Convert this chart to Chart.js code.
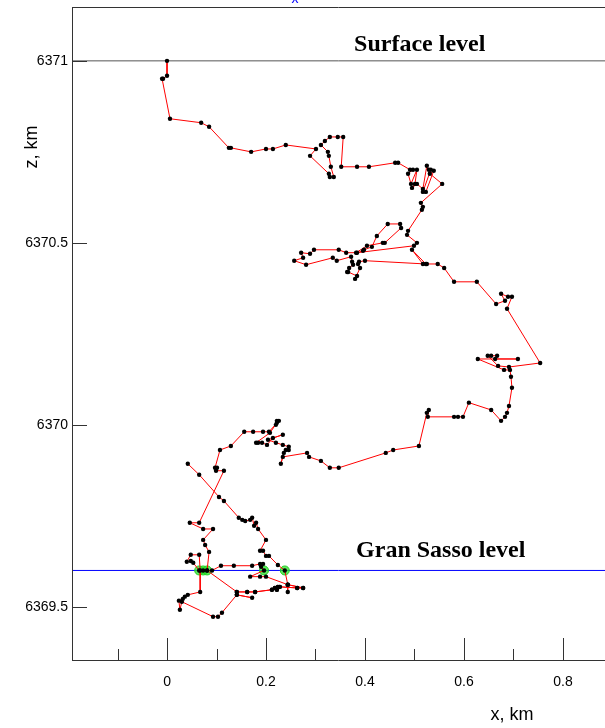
<!DOCTYPE html>
<html>
<head>
<meta charset="utf-8">
<script src="https://cdn.jsdelivr.net/npm/chart.js@4.4.0/dist/chart.umd.min.js"></script>
<style>
  html, body { margin: 0; padding: 0; background: #fff; }
  canvas { display: block; }
</style>
</head>
<body>
<canvas id="myChart" width="605" height="728"></canvas>
<script>
/* track of the particle, x and z in km */
let pathX = [
  0.000, 0.000, -0.008, -0.010, 0.006, 0.069, 0.085, 0.125, 0.129, 0.170,
  0.200, 0.214, 0.240, 0.301, 0.289, 0.327, 0.329, 0.337, 0.331, 0.327,
  0.325, 0.311, 0.319, 0.329, 0.345, 0.356, 0.352, 0.384, 0.408, 0.461,
  0.467, 0.491, 0.497, 0.487, 0.493, 0.505, 0.501, 0.495, 0.505, 0.517,
  0.525, 0.529, 0.533, 0.517, 0.523, 0.539, 0.531, 0.556, 0.513, 0.517,
  0.515, 0.487, 0.485, 0.505, 0.499, 0.384, 0.396, 0.398, 0.414, 0.424,
  0.446, 0.471, 0.473, 0.440, 0.436, 0.404, 0.382, 0.362, 0.347, 0.297,
  0.289, 0.271, 0.275, 0.257, 0.281, 0.335, 0.343, 0.372, 0.374, 0.376,
  0.368, 0.364, 0.366, 0.384, 0.380, 0.390, 0.386, 0.388, 0.400, 0.523,
  0.495, 0.517, 0.525, 0.547, 0.560, 0.580, 0.626, 0.665, 0.683, 0.675,
  0.689, 0.697, 0.687, 0.754, 0.691, 0.669, 0.648, 0.655, 0.667, 0.663,
  0.709, 0.628, 0.681, 0.693, 0.695, 0.697, 0.691, 0.687, 0.683, 0.675,
  0.655, 0.610, 0.598, 0.588, 0.580, 0.527, 0.529, 0.525, 0.509, 0.457,
  0.442, 0.347, 0.329, 0.311, 0.287, 0.283, 0.234, 0.230, 0.236, 0.240,
  0.246, 0.246, 0.234, 0.220, 0.204, 0.234, 0.214, 0.202, 0.192, 0.184,
  0.180, 0.208, 0.222, 0.220, 0.222, 0.226, 0.206, 0.194, 0.174, 0.156,
  0.129, 0.107, 0.097, 0.101, 0.099, 0.115, 0.065, 0.046, 0.073, 0.093,
  0.073, 0.077, 0.085, 0.081, 0.073, 0.065, 0.053, 0.048, 0.040, 0.048,
  0.065, 0.067, 0.067, 0.042, 0.036, 0.032, 0.024, 0.026, 0.030, 0.093,
  0.103, 0.111, 0.141, 0.172, 0.141, 0.141, 0.081, 0.091, 0.109, 0.135,
  0.172, 0.188, 0.194, 0.190, 0.196, 0.168, 0.188, 0.200, 0.244, 0.275,
  0.263, 0.228, 0.224, 0.222, 0.218, 0.212, 0.178, 0.162, 0.141, 0.162,
  0.178, 0.212, 0.218, 0.222, 0.224, 0.228, 0.263, 0.275, 0.244, 0.244,
  0.244, 0.238, 0.224, 0.206, 0.200, 0.194, 0.188, 0.200, 0.184, 0.180,
  0.176, 0.172, 0.168, 0.158, 0.152, 0.145, 0.115, 0.105, 0.065, 0.042
];
let pathZ = [
  6371.000, 6370.959, 6370.951, 6370.951, 6370.841, 6370.830, 6370.819, 6370.761, 6370.761, 6370.750,
  6370.758, 6370.758, 6370.769, 6370.758, 6370.739, 6370.690, 6370.681, 6370.681, 6370.709, 6370.739,
  6370.750, 6370.769, 6370.780, 6370.791, 6370.791, 6370.791, 6370.709, 6370.709, 6370.709, 6370.720,
  6370.720, 6370.701, 6370.701, 6370.690, 6370.662, 6370.701, 6370.662, 6370.651, 6370.662, 6370.648,
  6370.712, 6370.701, 6370.701, 6370.640, 6370.640, 6370.698, 6370.690, 6370.662, 6370.610, 6370.599,
  6370.591, 6370.533, 6370.522, 6370.500, 6370.492, 6370.473, 6370.478, 6370.481, 6370.489, 6370.519,
  6370.552, 6370.552, 6370.541, 6370.500, 6370.500, 6370.492, 6370.473, 6370.473, 6370.481, 6370.481,
  6370.470, 6370.473, 6370.459, 6370.451, 6370.440, 6370.459, 6370.451, 6370.462, 6370.448, 6370.440,
  6370.431, 6370.420, 6370.420, 6370.409, 6370.401, 6370.431, 6370.442, 6370.448, 6370.451, 6370.442,
  6370.481, 6370.442, 6370.442, 6370.442, 6370.431, 6370.393, 6370.393, 6370.332, 6370.341, 6370.360,
  6370.352, 6370.352, 6370.319, 6370.170, 6370.159, 6370.162, 6370.190, 6370.190, 6370.190, 6370.181,
  6370.181, 6370.181, 6370.151, 6370.151, 6370.132, 6370.102, 6370.052, 6370.033, 6370.022, 6370.011,
  6370.041, 6370.061, 6370.022, 6370.022, 6370.022, 6370.022, 6370.041, 6370.033, 6369.942, 6369.931,
  6369.923, 6369.882, 6369.882, 6369.901, 6369.912, 6369.923, 6369.912, 6369.893, 6369.923, 6369.931,
  6369.931, 6369.940, 6369.945, 6369.951, 6369.959, 6369.973, 6369.964, 6369.945, 6369.951, 6369.951,
  6369.951, 6369.978, 6370.006, 6370.000, 6370.011, 6370.011, 6369.981, 6369.981, 6369.981, 6369.981,
  6369.942, 6369.931, 6369.882, 6369.882, 6369.874, 6369.874, 6369.731, 6369.731, 6369.714, 6369.714,
  6369.684, 6369.670, 6369.651, 6369.600, 6369.600, 6369.600, 6369.621, 6369.626, 6369.624, 6369.643,
  6369.643, 6369.600, 6369.541, 6369.533, 6369.528, 6369.522, 6369.517, 6369.492, 6369.514, 6369.473,
  6369.473, 6369.484, 6369.533, 6369.525, 6369.533, 6369.541, 6369.600, 6369.600, 6369.613, 6369.613,
  6369.613, 6369.618, 6369.618, 6369.610, 6369.600, 6369.583, 6369.583, 6369.583, 6369.561, 6369.552,
  6369.552, 6369.555, 6369.555, 6369.547, 6369.552, 6369.547, 6369.541, 6369.541, 6369.541, 6369.541,
  6369.541, 6369.547, 6369.552, 6369.547, 6369.555, 6369.555, 6369.552, 6369.552, 6369.561, 6369.541,
  6369.561, 6369.600, 6369.615, 6369.640, 6369.640, 6369.654, 6369.654, 6369.684, 6369.714, 6369.731,
  6369.723, 6369.745, 6369.739, 6369.736, 6369.739, 6369.745, 6369.791, 6369.802, 6369.863, 6369.893
];

/* crossings of the Gran Sasso level */
let crossX = [0.065, 0.073, 0.081, 0.196, 0.238];
let crossZ = [6369.600, 6369.600, 6369.600, 6369.600, 6369.600];

let surfaceZ = 6371;
let granSassoZ = 6369.6;
let xRange = [-0.192, 0.885];
let zRange = [6369.354, 6371.148];
let xMajor = [0, 0.2, 0.4, 0.6, 0.8];
let xMinor = [-0.1, 0.1, 0.3, 0.5, 0.7];
let zTicks = [6369.5, 6370, 6370.5, 6371];
let levelText = ['Surface level', 'Gran Sasso level'];
let levelTextX = [0.378, 0.382];
let levelTextZ = [6371.044, 6369.654];

/* draws the frame, the inward ticks and the texts */
let decor = {
    id: 'decor',
    afterDraw(chart) {
        let ctx = chart.ctx;
        let a = chart.chartArea;
        let x = chart.scales.x;
        let y = chart.scales.y;
        ctx.save();
        ctx.strokeStyle = '#333';
        ctx.lineWidth = 1;
        ctx.beginPath();
        ctx.moveTo(a.left + 0.5, a.top);
        ctx.lineTo(a.left + 0.5, a.bottom + 1);
        ctx.moveTo(a.left, a.bottom + 0.5);
        ctx.lineTo(a.right, a.bottom + 0.5);
        ctx.moveTo(a.left, a.top + 0.5);
        ctx.lineTo(a.right, a.top + 0.5);
        xMajor.forEach(v => {
            let px = Math.round(x.getPixelForValue(v)) + 0.5;
            ctx.moveTo(px, a.bottom);
            ctx.lineTo(px, a.bottom - 22);
        });
        xMinor.forEach(v => {
            let px = Math.round(x.getPixelForValue(v)) + 0.5;
            ctx.moveTo(px, a.bottom);
            ctx.lineTo(px, a.bottom - 11);
        });
        zTicks.forEach(v => {
            let py = Math.round(y.getPixelForValue(v)) + 0.5;
            ctx.moveTo(a.left, py);
            ctx.lineTo(a.left + 15, py);
        });
        ctx.stroke();

        ctx.fillStyle = '#000';
        ctx.font = 'bold 24px "Liberation Serif", "Times New Roman", serif';
        ctx.textAlign = 'left';
        ctx.textBaseline = 'middle';
        levelText.forEach((t, i) => {
            ctx.fillText(t, x.getPixelForValue(levelTextX[i]), y.getPixelForValue(levelTextZ[i]));
        });

        ctx.font = '18px "Liberation Sans", Arial, sans-serif';
        ctx.textAlign = 'center';
        ctx.fillText('x, km', 512, 715);
        ctx.save();
        ctx.translate(32, 147);
        ctx.rotate(-Math.PI / 2);
        ctx.fillText('z, km', 0, 0);
        ctx.restore();

        ctx.fillStyle = '#0000ff';
        ctx.font = '14px "Liberation Sans", Arial, sans-serif';
        ctx.textBaseline = 'alphabetic';
        ctx.fillText('x', 295, 3);
        ctx.restore();
    }
};

let pathData = pathX.map((v, i) => ({ x: v, y: pathZ[i] }));
let crossData = crossX.map((v, i) => ({ x: v, y: crossZ[i] }));

let config = {
    type: 'scatter',
    data: {
        datasets: [{
            label: 'track',
            data: pathData,
            showLine: true,
            borderColor: '#ff0000',
            borderWidth: 1,
            tension: 0,
            pointRadius: 2.2,
            pointBackgroundColor: '#000',
            pointBorderWidth: 0,
            order: 0
        }, {
            label: 'crossings',
            data: crossData,
            showLine: false,
            pointRadius: 4.5,
            pointBackgroundColor: 'rgba(40, 230, 40, 0.75)',
            pointBorderColor: '#22cc22',
            pointBorderWidth: 1,
            order: 1
        }, {
            label: 'surface',
            data: [{ x: xRange[0], y: surfaceZ }, { x: xRange[1], y: surfaceZ }],
            showLine: true,
            borderColor: '#555',
            borderWidth: 1,
            pointRadius: 0,
            order: 2
        }, {
            label: 'gran sasso',
            data: [{ x: xRange[0], y: granSassoZ }, { x: xRange[1], y: granSassoZ }],
            showLine: true,
            borderColor: '#0000ff',
            borderWidth: 1,
            pointRadius: 0,
            order: 3
        }]
    },
    options: {
        responsive: false,
        animation: false,
        devicePixelRatio: 1,
        layout: { autoPadding: false, padding: { top: 7, right: 0, left: 0, bottom: 0 } },
        plugins: { legend: { display: false }, tooltip: { enabled: false } },
        scales: {
            x: {
                type: 'linear',
                min: xRange[0],
                max: xRange[1],
                afterFit: s => {
                    s.height = 68;
                    s.paddingLeft = 0;
                    s.paddingRight = 0;
                },
                afterBuildTicks: s => { s.ticks = xMajor.map(v => ({ value: v })); },
                grid: { display: false, drawTicks: false },
                border: { display: false },
                ticks: {
                    padding: 14,
                    color: '#000',
                    maxRotation: 0,
                    font: { family: '"Liberation Sans", Arial, sans-serif', size: 14 },
                    callback: v => String(Math.round(v * 10) / 10)
                }
            },
            y: {
                type: 'linear',
                min: zRange[0],
                max: zRange[1],
                afterFit: s => {
                    s.width = 72;
                    s.paddingTop = 0;
                    s.paddingBottom = 0;
                },
                afterBuildTicks: s => { s.ticks = zTicks.map(v => ({ value: v })); },
                grid: { display: false, drawTicks: false },
                border: { display: false },
                ticks: {
                    padding: 4,
                    color: '#000',
                    font: { family: '"Liberation Sans", Arial, sans-serif', size: 14 },
                    callback: v => String(v)
                }
            }
        }
    },
    plugins: [decor]
};

let myChart = new Chart(document.getElementById('myChart'), config);
</script>
</body>
</html>
